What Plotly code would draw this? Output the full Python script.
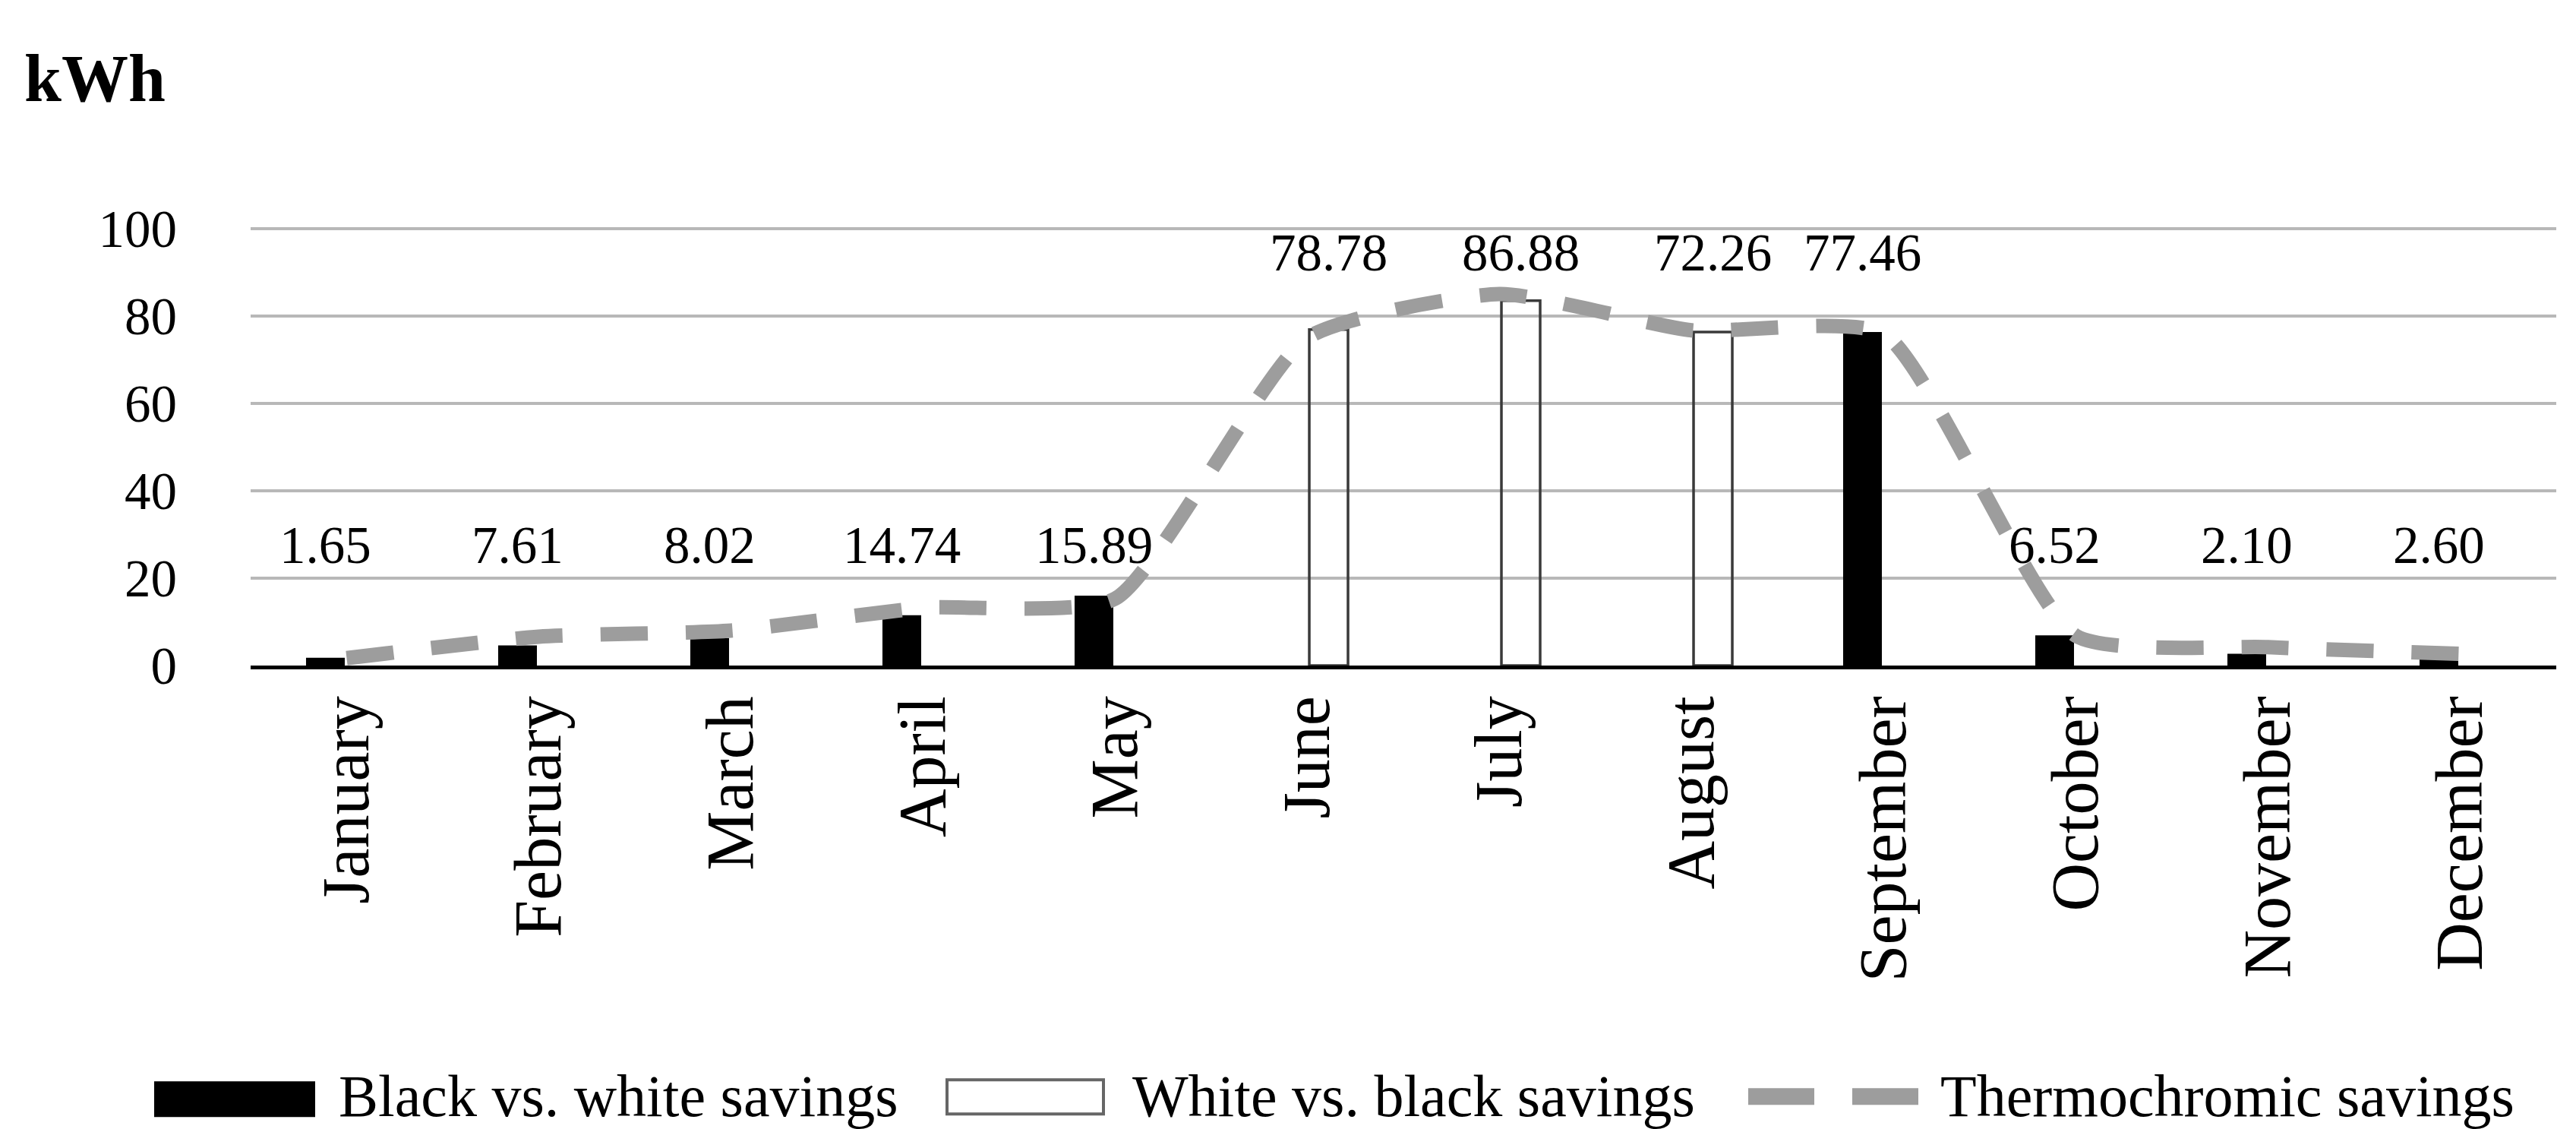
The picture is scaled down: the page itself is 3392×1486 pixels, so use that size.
import plotly.graph_objects as go

# ---------------- data ----------------
months = ["January", "February", "March", "April", "May", "June", "July",
          "August", "September", "October", "November", "December"]
black_vs_white = [1.8, 4.6, 6.3, 11.5, 16.0, None, None, None, 76.3, 6.9, 2.7, 2.8]
white_vs_black = [None, None, None, None, None, 76.9, 83.5, 76.3, None, None, None, None]
thermochromic = [1.7, 6.6, 8.0, 13.2, 15.3, 75.0, 85.0, 76.7, 75.9, 6.8, 4.2, 2.7]
value_labels = ["1.65", "7.61", "8.02", "14.74", "15.89", "78.78", "86.88",
                "72.26", "77.46", "6.52", "2.10", "2.60"]
y_ticks = [0, 20, 40, 60, 80, 100]
legend_names = ["Black vs. white savings", "White vs. black savings", "Thermochromic savings"]
unit_label = "kWh"

# ---------------- layout / style ----------------
W, H = 3392, 1486
Y_MAX = 101                                    # a little headroom so the 100 gridline shows
PX_PER_UNIT = 5.75
PL, PR, PB = 322, 3358, 868                    # plot area in pixels
PT = PB - PX_PER_UNIT * Y_MAX
FONT = "Liberation Serif"
LINE_GREY = "#9d9d9d"
LOW_LABEL_Y, HIGH_LABEL_Y = 27.5, 94.4
BAR_SHIFT = 28                                 # px offset of each bar in its group


def px2x(px):
    return (px - PL) / (PR - PL)


def px2y(py):
    return (PB - py) / (PB - PT)


fig = go.Figure()
fig.add_trace(go.Bar(
    x=months, y=black_vs_white, name=legend_names[0],
    marker=dict(color="black", line=dict(width=0)), showlegend=False))
fig.add_trace(go.Bar(
    x=months, y=white_vs_black, name=legend_names[1],
    marker=dict(color="rgba(0,0,0,0)", line=dict(color="#3a3a3a", width=3.5)),
    showlegend=False))
fig.add_trace(go.Scatter(
    x=months, y=thermochromic, name=legend_names[2], mode="lines",
    line=dict(color=LINE_GREY, width=19, dash="62px,50px", shape="spline", smoothing=0.55),
    showlegend=False))

annotations = []
for m, lab, b, w in zip(months, value_labels, black_vs_white, white_vs_black):
    val = b if b is not None else w
    annotations.append(dict(
        x=m, y=HIGH_LABEL_Y if val > 50 else LOW_LABEL_Y, xref="x", yref="y",
        text=lab, showarrow=False, xanchor="center", yanchor="middle",
        xshift=-BAR_SHIFT if b is not None else BAR_SHIFT,
        font=dict(family=FONT, size=69, color="black")))

# unit label
annotations.append(dict(
    x=px2x(22), y=px2y(96), xref="paper", yref="paper", text="<b>%s</b>" % unit_label,
    showarrow=False, xanchor="left", yanchor="middle",
    font=dict(family=FONT, size=88, color="black")))

# custom legend (wide Excel-style swatches)
shapes = [
    dict(type="rect", xref="paper", yref="paper",
         x0=px2x(195), x1=px2x(407), y0=px2y(1462), y1=px2y(1415),
         fillcolor="black", line=dict(width=0)),
    dict(type="rect", xref="paper", yref="paper",
         x0=px2x(1239), x1=px2x(1445), y0=px2y(1458), y1=px2y(1413),
         fillcolor="white", line=dict(color="#666666", width=4)),
    dict(type="line", xref="paper", yref="paper",
         x0=px2x(2294), x1=px2x(2519), y0=px2y(1435), y1=px2y(1435),
         line=dict(color=LINE_GREY, width=22, dash="87px,50px")),
]
for name, left in zip(legend_names, [436, 1481, 2545]):
    annotations.append(dict(
        x=px2x(left), y=px2y(1434), xref="paper", yref="paper", text=name,
        showarrow=False, xanchor="left", yanchor="middle",
        font=dict(family=FONT, size=78, color="black")))

fig.update_layout(
    width=W, height=H, autosize=False,
    margin=dict(l=PL, r=W - PR, t=PT, b=H - PB, pad=0),
    paper_bgcolor="white", plot_bgcolor="white",
    barmode="group", bargap=0.557, bargroupgap=0.09,
    showlegend=False,
    annotations=annotations, shapes=shapes,
    xaxis=dict(
        type="category", categoryorder="array", categoryarray=months,
        tickangle=-90, tickfont=dict(family=FONT, size=88, color="black"),
        showline=True, linecolor="black", linewidth=5, ticks="",
        showgrid=False, ticklabelstandoff=0),
    yaxis=dict(
        range=[0, Y_MAX], tickvals=y_ticks, ticktext=[str(v) for v in y_ticks],
        tickfont=dict(family=FONT, size=69, color="black"),
        showgrid=True, gridcolor="#b8b8b8", gridwidth=3.5,
        zeroline=False, showline=False, ticks="", ticklabelstandoff=96),
)

fig.write_html("out.html")
